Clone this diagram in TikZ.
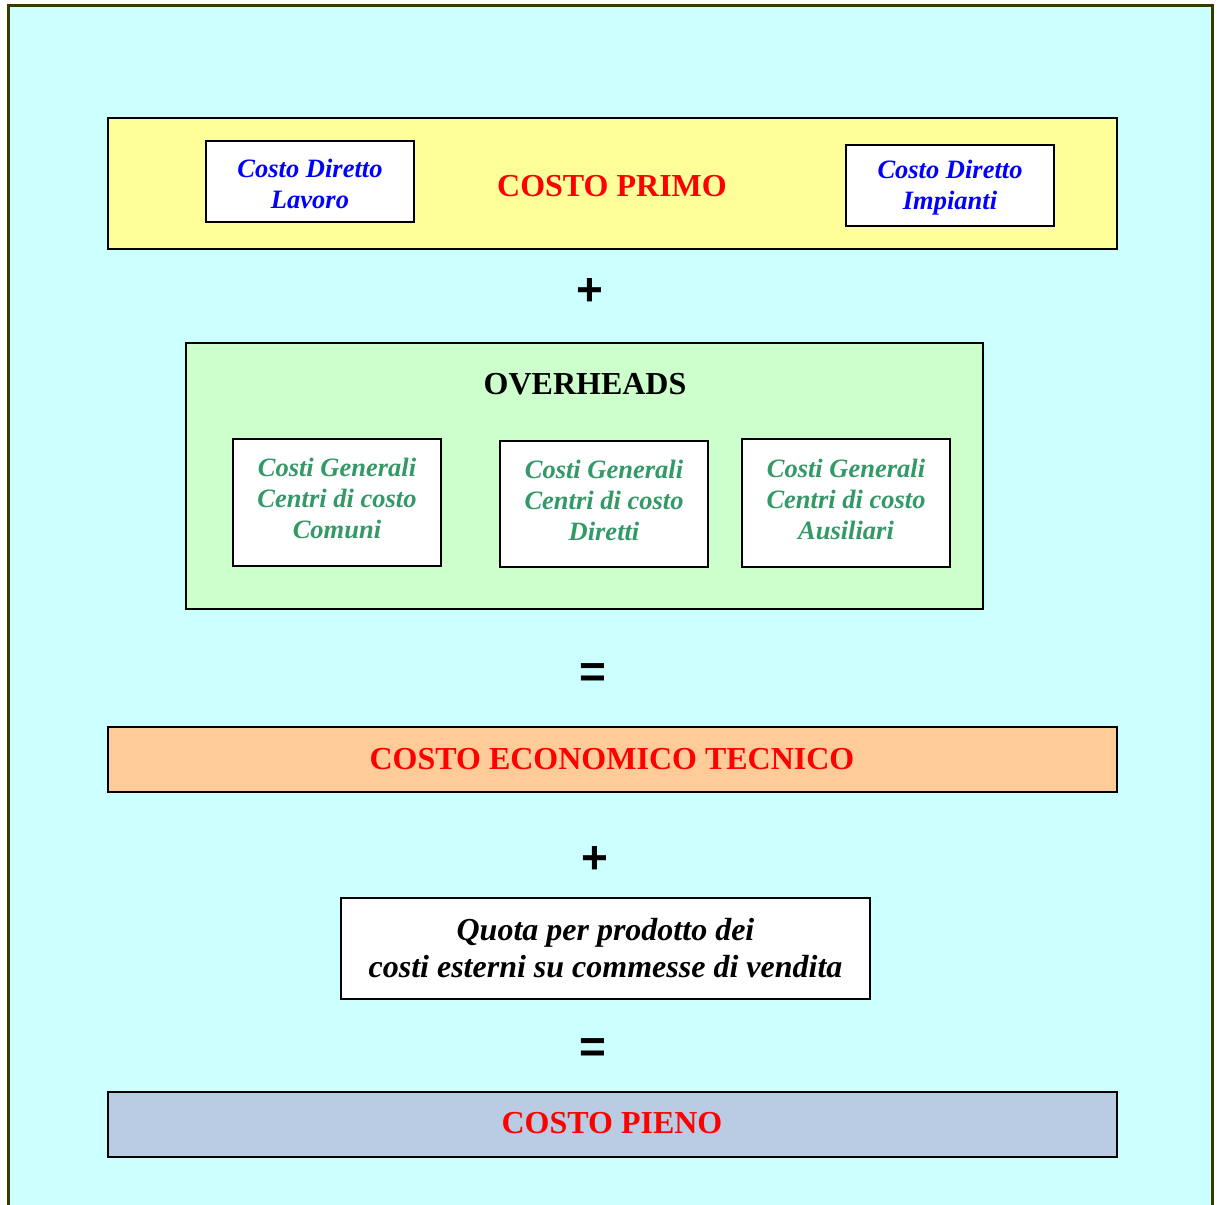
\documentclass[tikz,border=0pt]{standalone}
\usepackage{fontspec}
\setmainfont{Liberation Serif}
\newfontfamily\symfont{Liberation Sans}
\definecolor{bgcyan}{HTML}{CCFFFF}
\definecolor{frameol}{HTML}{3A3A00}
\definecolor{boxyellow}{HTML}{FFFF99}
\definecolor{boxgreen}{HTML}{CCFFCC}
\definecolor{boxorange}{HTML}{FFCC99}
\definecolor{boxblue}{HTML}{B9CCE4}
\definecolor{txtblue}{HTML}{0000FF}
\definecolor{txtred}{HTML}{FF0000}
\definecolor{txtgreen}{HTML}{339966}
\begin{document}
\begin{tikzpicture}[x=1pt,y=-1pt,
  panel/.style={draw=black,line width=2pt},
  wbox/.style={draw=black,line width=2pt,fill=white},
  smalltxt/.style={font=\fontsize{26.5}{31}\selectfont\bfseries\itshape,align=center},
  bigtxt/.style={font=\fontsize{32}{38}\selectfont\bfseries,text=txtred},
  opsign/.style={font=\fontsize{46}{46}\selectfont\symfont\bfseries}]
\useasboundingbox (0,0) rectangle (1217,1204);
\begin{scope}
\clip (0,0) rectangle (1217,1204);
\fill[bgcyan] (8,6) rectangle (1212,1230);
\draw[frameol,line width=3pt] (8,1230) -- (8,6) -- (1212,6) -- (1212,1230);
\end{scope}
% Costo primo
\filldraw[panel,fill=boxyellow] (108,118) rectangle (1117,249);
\node[wbox,minimum width=208pt,minimum height=81pt] (cdl) at (310,181.5) {};
\node[smalltxt,text=txtblue] (cdlt) at ([yshift=-2pt]cdl.center) {Costo Diretto\\Lavoro};
\node[wbox,minimum width=208pt,minimum height=81pt] (cdi) at (950,185.5) {};
\node[smalltxt,text=txtblue] (cdit) at ([yshift=-2pt]cdi.center) {Costo Diretto\\Impianti};
\node[bigtxt] (cp) at (612,186) {COSTO PRIMO};
\node[opsign] (p1) at (590,292) {+};
% Overheads
\filldraw[panel,fill=boxgreen] (186,343) rectangle (983,609);
\node[font=\fontsize{32}{38}\selectfont\bfseries] (ov) at (585,384) {OVERHEADS};
\node[wbox,minimum width=208pt,minimum height=127pt] (g1) at (337,502.5) {};
\node[smalltxt,text=txtgreen] at ([yshift=4pt]g1.center) {Costi Generali\\Centri di costo\\Comuni};
\node[wbox,minimum width=208pt,minimum height=126pt] (g2) at (604,504) {};
\node[smalltxt,text=txtgreen] at ([yshift=4pt]g2.center) {Costi Generali\\Centri di costo\\Diretti};
\node[wbox,minimum width=208pt,minimum height=128pt] (g3) at (846,503) {};
\node[smalltxt,text=txtgreen] at ([yshift=4pt]g3.center) {Costi Generali\\Centri di costo\\Ausiliari};
\node[opsign] (e1) at (593,676) {=};
% Costo economico tecnico
\filldraw[panel,fill=boxorange] (108,727) rectangle (1117,792);
\node[bigtxt] (cet) at (612,759) {COSTO ECONOMICO TECNICO};
\node[opsign] (p2) at (595,860) {+};
% Quota
\node[wbox,minimum width=529pt,minimum height=101pt] (q) at (605.5,948.5) {};
\node[font=\fontsize{32}{37}\selectfont\bfseries\itshape,align=center] (qt) at (q) {Quota per prodotto dei\\costi esterni su commesse di vendita};
\node[opsign] (e2) at (593,1051) {=};
% Costo pieno
\filldraw[panel,fill=boxblue] (108,1092) rectangle (1117,1157);
\node[bigtxt] (cpn) at (612,1123) {COSTO PIENO};
\end{tikzpicture}
\end{document}
